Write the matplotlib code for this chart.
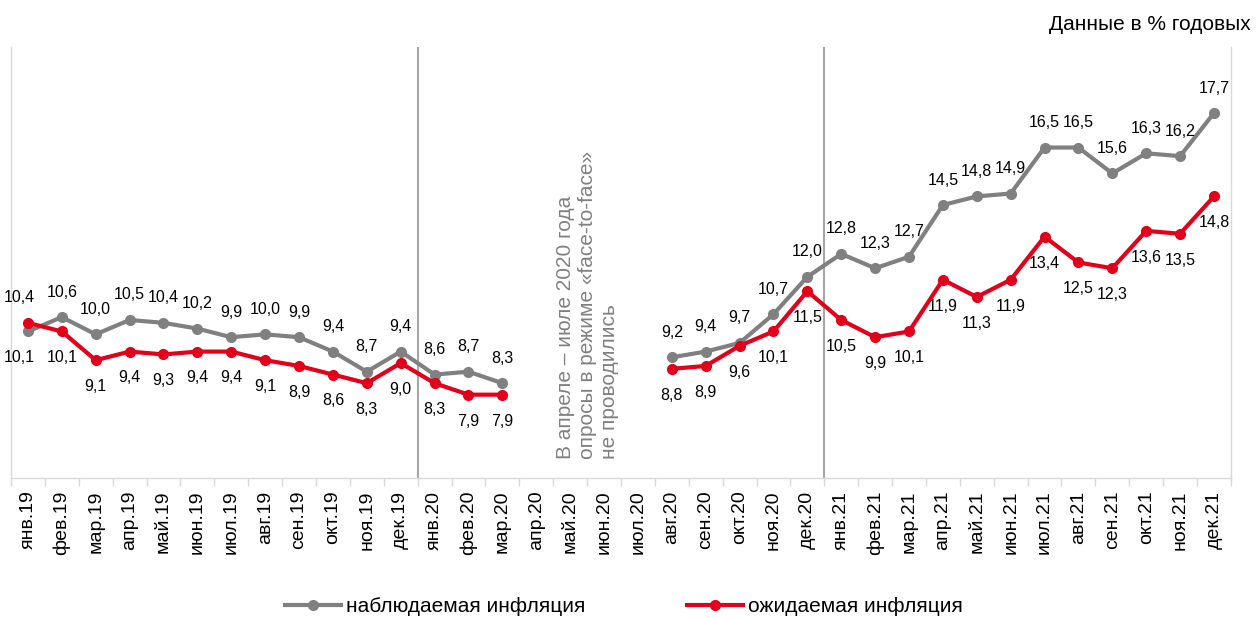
import matplotlib.pyplot as plt
import numpy as np

plt.rcParams['font.family'] = ['Liberation Sans', 'DejaVu Sans']

months = ['янв', 'фев', 'мар', 'апр', 'май', 'июн', 'июл', 'авг', 'сен', 'окт', 'ноя', 'дек']
years = ['19', '20', '21']
labels = [m + '.' + y for y in years for m in months]

nan = np.nan
observed = [10.1, 10.6, 10.0, 10.5, 10.4, 10.2, 9.9, 10.0, 9.9, 9.4, 8.7, 9.4,
            8.6, 8.7, 8.3, nan, nan, nan, nan, 9.2, 9.4, 9.7, 10.7, 12.0,
            12.8, 12.3, 12.7, 14.5, 14.8, 14.9, 16.5, 16.5, 15.6, 16.3, 16.2, 17.7]
expected = [10.4, 10.1, 9.1, 9.4, 9.3, 9.4, 9.4, 9.1, 8.9, 8.6, 8.3, 9.0,
            8.3, 7.9, 7.9, nan, nan, nan, nan, 8.8, 8.9, 9.6, 10.1, 11.5,
            10.5, 9.9, 10.1, 11.9, 11.3, 11.9, 13.4, 12.5, 12.3, 13.6, 13.5, 14.8]

GRAY = '#808080'
RED = '#e2001a'
LIGHT = '#d9d9d9'

fig = plt.figure(figsize=(12.57, 6.18), dpi=100)
ax = fig.add_axes([0.00875, 0.2265, 0.9705, 0.6975])

x = np.arange(len(labels))
ax.plot(x, observed, color=GRAY, lw=3, marker='o', ms=7, label='наблюдаемая инфляция', zorder=3)
ax.plot(x, expected, color=RED, lw=3, marker='o', ms=7, label='ожидаемая инфляция', zorder=4)

# подписи значений: серые сверху, красные снизу (кроме января 2019)
for i in range(len(labels)):
    g, r = observed[i], expected[i]
    if np.isnan(g):
        continue
    up, down = 18, -19
    g_off, r_off = (up, down) if i > 0 else (down, up)
    dx = -6 if i == 0 else 0
    ax.annotate(f'{g:.1f}'.replace('.', ','), (i, g), xytext=(dx, g_off),
                textcoords='offset points', ha='center', va='center', fontsize=11.5)
    ax.annotate(f'{r:.1f}'.replace('.', ','), (i, r), xytext=(dx, r_off),
                textcoords='offset points', ha='center', va='center', fontsize=11.5)

for b in [11.5, 23.5]:
    ax.axvline(b, color='#a6a6a6', lw=1.5, zorder=1)

ax.text(16.5, 5.65, 'В апреле – июле 2020 года\nопросы в режиме «face-to-face»\nне проводились',
        rotation=90, ha='center', va='bottom', multialignment='left',
        fontsize=15, color=GRAY, linespacing=1.2)

ax.set_xlim(-0.5, len(labels) - 0.5)
ax.set_ylim(5, 20)
ax.set_yticks([])
ax.set_xticks(x)
ax.set_xticklabels(labels, rotation=90, fontsize=14)
ax.set_xticks(np.arange(-0.5, len(labels)), minor=True)
ax.tick_params(axis='x', which='major', length=0, pad=9)
ax.tick_params(axis='x', which='minor', length=6, color=LIGHT, width=1)

for side in ['left', 'right', 'bottom']:
    ax.spines[side].set_color(LIGHT)
    ax.spines[side].set_linewidth(1)
ax.spines['top'].set_visible(False)

fig.text(0.995, 0.96, 'Данные в % годовых', ha='right', va='center', fontsize=15)

fig.legend(loc='center', bbox_to_anchor=(624 / 1257, 11 / 618), ncol=2, frameon=False,
           fontsize=15, handlelength=2.65, handletextpad=0.25, columnspacing=4.9,
           borderaxespad=0, borderpad=0)

fig.savefig('out.png', dpi=100)
